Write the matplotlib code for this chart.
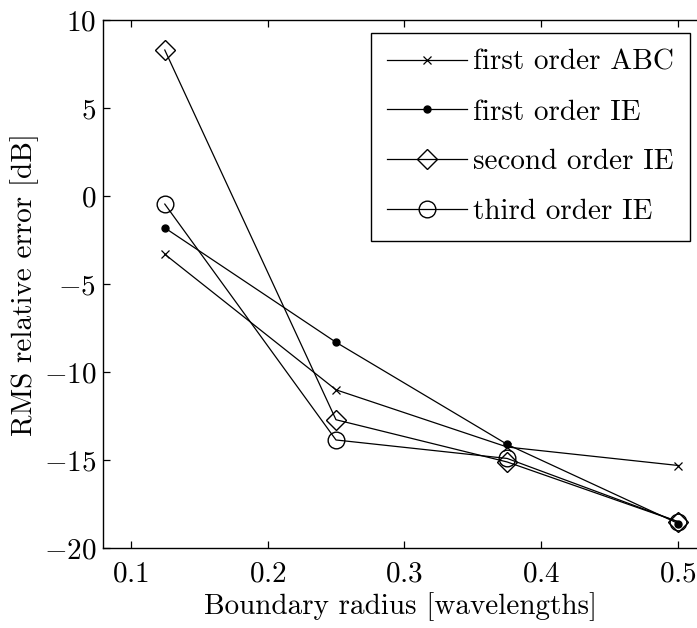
import numpy as np
import matplotlib
matplotlib.use("Agg")
import matplotlib.pyplot as plt

plt.rcParams['font.family'] = 'serif'
plt.rcParams['font.serif'] = ['cmr10']
plt.rcParams['mathtext.fontset'] = 'cm'
plt.rcParams['axes.formatter.use_mathtext'] = True

# boundary radius in wavelengths
radius = [0.125, 0.25, 0.375, 0.5]

# RMS relative error in dB
abc1 = [-3.3, -11.0, -14.25, -15.3]
ie1 = [-1.8, -8.3, -14.1, -18.6]
ie2 = [8.3, -12.7, -15.1, -18.5]
ie3 = [-0.45, -13.85, -14.9, -18.5]

fig = plt.figure(figsize=(6.97, 6.28), dpi=100)
ax = fig.add_axes([0.148, 0.127, 1.0 - 0.148, 0.968 - 0.127])

ax.plot(radius, abc1, 'k-x', lw=0.9, ms=6, mew=0.9, label='first order ABC')
ax.plot(radius, ie1, 'k-o', lw=0.9, ms=5, label='first order IE')
ax.plot(radius, ie2, 'k-D', lw=0.9, ms=10, mfc='none', mew=1.0, label='second order IE')
ax.plot(radius, ie3, 'k-o', lw=0.9, ms=12, mfc='none', mew=1.0, label='third order IE')

ax.set_xlim(0.08, 0.5136)
ax.set_ylim(-20, 10)
ax.set_xticks([0.1, 0.2, 0.3, 0.4, 0.5])
ax.set_yticks([-20, -15, -10, -5, 0, 5, 10])
ax.tick_params(direction='in', top=True, right=False, length=5, width=0.9, labelsize=21)
ax.tick_params(axis='x', pad=9)
ax.tick_params(axis='y', pad=5)
ax.spines['right'].set_visible(False)
for s in ['left', 'top', 'bottom']:
    ax.spines[s].set_linewidth(1.0)

ax.set_xlabel('Boundary radius [wavelengths]', fontsize=21, labelpad=4)
ax.set_ylabel('RMS relative error [dB]', fontsize=21, labelpad=3)

leg = ax.legend(loc='upper left', bbox_to_anchor=(0.451, 0.975), borderaxespad=0,
                fontsize=21, handlelength=2.75, handletextpad=0.2, labelspacing=0.8,
                fancybox=False, framealpha=1, edgecolor='k', borderpad=0.55)
leg.get_frame().set_linewidth(1.0)

fig.savefig('out.png', dpi=100)
